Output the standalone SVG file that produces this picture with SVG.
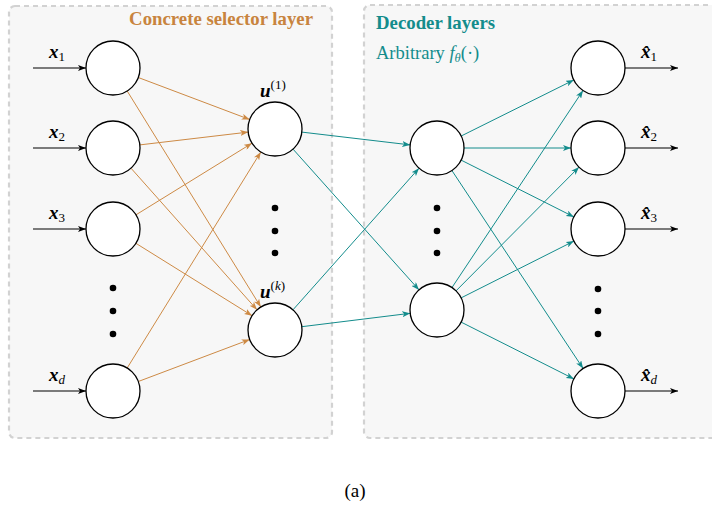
<svg xmlns="http://www.w3.org/2000/svg" width="712" height="506" viewBox="0 0 712 506">
<style>
text{font-family:"Liberation Serif","Times New Roman","DejaVu Serif",serif}
.panel{fill:#f7f7f7;stroke:#d2d2d2;stroke-width:2.2;stroke-dasharray:5,4}
.node{fill:#ffffff;stroke:#000;stroke-width:1.3}
.dot{fill:#000}
.io{stroke:#000;stroke-width:1.2;fill:none;marker-end:url(#ak)}
.enc{stroke:#cd8a45;stroke-width:1;fill:none;marker-end:url(#ao)}
.dec{stroke:#138c8c;stroke-width:1;fill:none;marker-end:url(#at)}
.lab{font-size:19px;fill:#000}
.title{font-size:18.8px;font-weight:bold}
.bi{font-style:italic;font-weight:bold}
.it{font-style:italic}
.sub{font-size:13px}
</style>
<defs>
<marker id="ak" viewBox="0 0 8 6" refX="8" refY="3" markerWidth="8" markerHeight="6" markerUnits="userSpaceOnUse" orient="auto"><path d="M0,0 L8,3 L0,6 L2,3 Z" fill="#000"/></marker>
<marker id="ao" viewBox="0 0 8 6" refX="8" refY="3" markerWidth="8" markerHeight="6" markerUnits="userSpaceOnUse" orient="auto"><path d="M0,0 L8,3 L0,6 L2,3 Z" fill="#cd8a45"/></marker>
<marker id="at" viewBox="0 0 8 6" refX="8" refY="3" markerWidth="8" markerHeight="6" markerUnits="userSpaceOnUse" orient="auto"><path d="M0,0 L8,3 L0,6 L2,3 Z" fill="#138c8c"/></marker>
</defs>
<rect width="712" height="506" fill="#ffffff"/>
<g id="panel-encoder">
<rect class="panel" x="9" y="6" width="323" height="432" rx="6"/>
<text class="title" x="313" y="25" text-anchor="end" fill="#c8843e">Concrete selector layer</text>
</g>
<g id="panel-decoder">
<rect class="panel" x="364" y="5" width="360" height="433" rx="6"/>
<text class="title" x="376" y="29" fill="#138c8c">Decoder layers</text>
<text x="376" y="59" font-size="18.5" fill="#138c8c">Arbitrary <tspan font-style="italic">f</tspan><tspan font-style="italic" font-size="12.5" dy="3">θ</tspan><tspan dy="-3">(·)</tspan></text>
</g>
<g id="connectors">
<line class="io" x1="33" y1="68" x2="86" y2="68"/>
<line class="io" x1="33" y1="148" x2="86" y2="148"/>
<line class="io" x1="33" y1="229" x2="86" y2="229"/>
<line class="io" x1="33" y1="391" x2="86" y2="391"/>
<line class="enc" x1="138.3" y1="77.5" x2="249.7" y2="119.5"/>
<line class="enc" x1="127.2" y1="91" x2="260.8" y2="307"/>
<line class="enc" x1="139.8" y1="144.9" x2="248.2" y2="132.1"/>
<line class="enc" x1="131" y1="168.2" x2="257" y2="309.8"/>
<line class="enc" x1="136" y1="214.8" x2="252" y2="143.2"/>
<line class="enc" x1="135.9" y1="243.3" x2="252.1" y2="315.7"/>
<line class="enc" x1="127.2" y1="368" x2="260.8" y2="152"/>
<line class="enc" x1="138.3" y1="381.5" x2="249.7" y2="339.5"/>
<line class="dec" x1="301.8" y1="132.1" x2="410.2" y2="144.9"/>
<line class="dec" x1="293" y1="149.1" x2="419" y2="289.9"/>
<line class="dec" x1="293" y1="309.8" x2="419" y2="168.2"/>
<line class="dec" x1="301.8" y1="326.7" x2="410.2" y2="313.3"/>
<line class="dec" x1="461.2" y1="136" x2="573.8" y2="80"/>
<line class="dec" x1="464" y1="148" x2="571" y2="148"/>
<line class="dec" x1="461.1" y1="160.1" x2="573.9" y2="216.9"/>
<line class="dec" x1="451.9" y1="170.5" x2="583.1" y2="368.5"/>
<line class="dec" x1="452" y1="287.5" x2="583" y2="90.5"/>
<line class="dec" x1="456" y1="290.9" x2="579" y2="167.1"/>
<line class="dec" x1="461.1" y1="297.9" x2="573.9" y2="241.1"/>
<line class="dec" x1="461.1" y1="322.1" x2="573.9" y2="378.9"/>
<line class="io" x1="625" y1="68" x2="678" y2="68"/>
<line class="io" x1="625" y1="148" x2="678" y2="148"/>
<line class="io" x1="625" y1="229" x2="678" y2="229"/>
<line class="io" x1="625" y1="391" x2="678" y2="391"/>
</g>
<g id="in1"><circle class="node" cx="113" cy="68" r="27"/><text class="lab" x="49" y="58"><tspan class="bi">x</tspan><tspan class="sub" dy="3">1</tspan></text></g>
<g id="in2"><circle class="node" cx="113" cy="148" r="27"/><text class="lab" x="49" y="138"><tspan class="bi">x</tspan><tspan class="sub" dy="3">2</tspan></text></g>
<g id="in3"><circle class="node" cx="113" cy="229" r="27"/><text class="lab" x="49" y="219"><tspan class="bi">x</tspan><tspan class="sub" dy="3">3</tspan></text></g>
<g id="in-dots"><circle class="dot" cx="113" cy="288" r="3.3"/><circle class="dot" cx="113" cy="311" r="3.3"/><circle class="dot" cx="113" cy="334" r="3.3"/></g>
<g id="ind"><circle class="node" cx="113" cy="391" r="27"/><text class="lab" x="49" y="381"><tspan class="bi">x</tspan><tspan class="sub it" dy="3">d</tspan></text></g>
<g id="u1"><circle class="node" cx="275" cy="129" r="27"/><text class="lab" x="260" y="97"><tspan class="bi">u</tspan><tspan class="sub" dy="-8">(1)</tspan></text></g>
<g id="u-dots"><circle class="dot" cx="275" cy="208" r="3.3"/><circle class="dot" cx="275" cy="231" r="3.3"/><circle class="dot" cx="275" cy="253" r="3.3"/></g>
<g id="uk"><circle class="node" cx="275" cy="330" r="27"/><text class="lab" x="260" y="298"><tspan class="bi">u</tspan><tspan class="sub" dy="-8">(<tspan class="it">k</tspan>)</tspan></text></g>
<g id="h1"><circle class="node" cx="437" cy="148" r="27"/></g>
<g id="h-dots"><circle class="dot" cx="437" cy="208" r="3.3"/><circle class="dot" cx="437" cy="231" r="3.3"/><circle class="dot" cx="437" cy="253" r="3.3"/></g>
<g id="h2"><circle class="node" cx="437" cy="310" r="27"/></g>
<g id="out1"><circle class="node" cx="598" cy="68" r="27"/><text class="lab" x="641" y="58"><tspan class="bi">x̂</tspan><tspan class="sub" dy="3">1</tspan></text></g>
<g id="out2"><circle class="node" cx="598" cy="148" r="27"/><text class="lab" x="641" y="138"><tspan class="bi">x̂</tspan><tspan class="sub" dy="3">2</tspan></text></g>
<g id="out3"><circle class="node" cx="598" cy="229" r="27"/><text class="lab" x="641" y="219"><tspan class="bi">x̂</tspan><tspan class="sub" dy="3">3</tspan></text></g>
<g id="out-dots"><circle class="dot" cx="598" cy="289" r="3.3"/><circle class="dot" cx="598" cy="311" r="3.3"/><circle class="dot" cx="598" cy="334" r="3.3"/></g>
<g id="outd"><circle class="node" cx="598" cy="391" r="27"/><text class="lab" x="641" y="381"><tspan class="bi">x̂</tspan><tspan class="sub it" dy="3">d</tspan></text></g>
<text x="355" y="497" text-anchor="middle" font-size="19" fill="#000">(a)</text>
</svg>
